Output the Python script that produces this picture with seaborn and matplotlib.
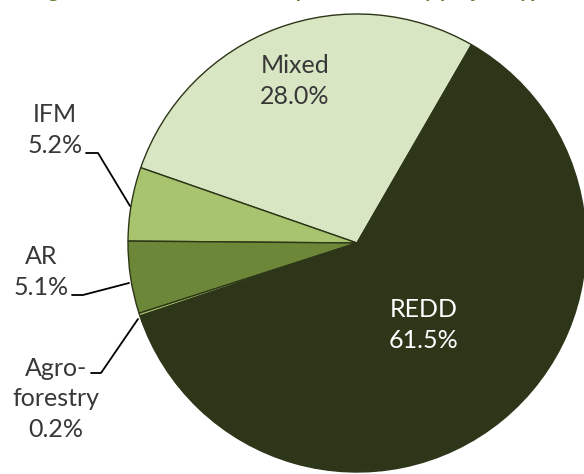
import matplotlib
matplotlib.use("Agg")
import matplotlib.pyplot as plt
import seaborn as sns

# ── Data ─────────────────────────────────────────────────────────────────────
CATEGORIES = ["Mixed", "IFM", "AR", "Agroforestry", "REDD"]
SHARES     = [28.0, 5.2, 5.1, 0.2, 61.5]
LABELS     = ["Mixed", "IFM", "AR", "Agro-\nforestry", "REDD"]
TITLE      = "Figure 8: Offset volume and price shares by project type"

COLORS = ["#D9E6C3", "#A8C46E", "#6C8738", "#A8C46E", "#2D3618"]
EDGE   = "#2D3618"

sns.set_theme(style="white")
plt.rcParams["font.family"] = ["Lato", "DejaVu Sans"]

W, H = 584, 474
fig = plt.figure(figsize=(W / 100, H / 100), dpi=100)
ax = fig.add_axes([0, 0, 1, 1])

cx, cy, r = 357, H - 243, 229
wedges, _ = ax.pie(
    SHARES, colors=COLORS, startangle=60, counterclock=True,
    center=(cx, cy), radius=r, frame=True,
    wedgeprops=dict(edgecolor=EDGE, linewidth=1.0),
)
ax.set_xlim(0, W)
ax.set_ylim(0, H)
ax.set_aspect("equal")
ax.axis("off")

fs = 18
ls = 1.38
txt = "#383838"


def label(x, y, i, color=txt):
    ax.text(x, H - y, f"{LABELS[i]}\n{SHARES[i]:.1f}%", ha="center", va="center",
            fontsize=fs, color=color, linespacing=ls)


# inside labels
label(295, 81, 0)
label(424, 325, 4, color="white")

# outside labels with leader lines
label(55, 130, 1)
ax.plot([86, 98, 130], [H - 153, H - 153, H - 206], color="black", lw=1.3)

label(41, 272, 2)
ax.plot([72, 83, 129], [H - 295, H - 295, H - 283], color="black", lw=1.3)

label(56, 399, 3)
ax.plot([91, 101, 138], [H - 373, H - 373, H - 319], color="black", lw=1.3)

# title, mostly above the visible area
ax.text(292, H + 3, TITLE, ha="center", va="baseline", fontsize=15,
        fontweight="bold", color="#5F7E30", clip_on=False)

fig.savefig("out.png", dpi=100)
